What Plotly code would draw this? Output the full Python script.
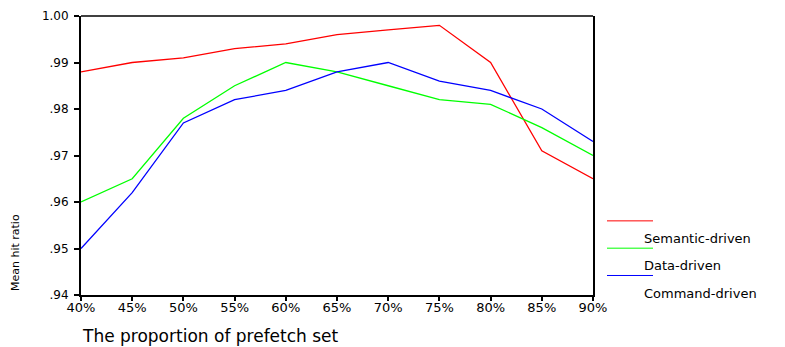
import plotly.graph_objects as go

proportions = [40, 45, 50, 55, 60, 65, 70, 75, 80, 85, 90]
x_tick_labels = ["40%", "45%", "50%", "55%", "60%", "65%", "70%", "75%", "80%", "85%", "90%"]
y_tick_vals = [0.94, 0.95, 0.96, 0.97, 0.98, 0.99, 1.00]
y_tick_labels = [".94", ".95", ".96", ".97", ".98", ".99", "1.00"]

series_names = ["Semantic-driven", "Data-driven", "Command-driven"]
series_colors = ["#ff0000", "#00ff00", "#0000ff"]
semantic_driven = [0.988, 0.990, 0.991, 0.993, 0.994, 0.996, 0.997, 0.998, 0.990, 0.971, 0.965]
data_driven = [0.960, 0.965, 0.978, 0.985, 0.990, 0.988, 0.985, 0.982, 0.981, 0.976, 0.970]
command_driven = [0.950, 0.962, 0.977, 0.982, 0.984, 0.988, 0.990, 0.986, 0.984, 0.980, 0.973]
series_values = [semantic_driven, data_driven, command_driven]

FONT = "DejaVu Sans"

fig = go.Figure()
for name, color, vals in zip(series_names, series_colors, series_values):
    fig.add_trace(go.Scatter(x=proportions, y=vals, mode="lines", name=name,
                             line=dict(color=color, width=1.3), showlegend=False))

# Plot area in pixels: x 81-593, y 9-295
W, H = 785, 347
L, R, T, B = 81, 593, 9, 295
def px(x):
    return (x - L) / (R - L)
def py(y):
    return (B - y) / (B - T)

shapes = [dict(type="line", xref="paper", yref="paper", x0=0, x1=1, y0=1, y1=1,
               line=dict(color="black", width=1.5))]
annotations = []
legend_line_y = [219, 247, 275]
legend_label_y = [237, 265, 293]
for i, (name, color) in enumerate(zip(series_names, series_colors)):
    shapes.append(dict(type="line", xref="paper", yref="paper",
                       x0=px(607), x1=px(653), y0=py(legend_line_y[i]), y1=py(legend_line_y[i]),
                       line=dict(color=color, width=1)))
    annotations.append(dict(xref="paper", yref="paper", x=px(642), y=py(legend_label_y[i]),
                            text=name, showarrow=False, xanchor="left", yanchor="middle",
                            font=dict(family=FONT, size=13, color="black")))

annotations.append(dict(xref="paper", yref="paper", x=px(15), y=py(252),
                        text="Mean hit ratio", textangle=-90, showarrow=False,
                        xanchor="center", yanchor="middle",
                        font=dict(family=FONT, size=11, color="black")))
annotations.append(dict(xref="paper", yref="paper", x=px(80), y=py(337),
                        text="The proportion of prefetch set", showarrow=False,
                        xanchor="left", yanchor="middle",
                        font=dict(family=FONT, size=17, color="black")))

fig.update_layout(
    width=W, height=H,
    margin=dict(l=L, r=W - R, t=T, b=H - B),
    paper_bgcolor="white", plot_bgcolor="white",
    font=dict(family=FONT, size=12, color="black"),
    shapes=shapes, annotations=annotations,
    xaxis=dict(range=[40, 90], tickvals=proportions, ticktext=x_tick_labels,
               showgrid=False, zeroline=False, showline=True, linecolor="black", linewidth=2,
               ticks="outside", ticklen=4, tickwidth=2, tickcolor="black",
               ticklabelstandoff=-5,
               tickfont=dict(family=FONT, size=13)),
    yaxis=dict(range=[0.94, 1.00], tickvals=y_tick_vals, ticktext=y_tick_labels,
               showgrid=False, zeroline=False, showline=True, linecolor="black", linewidth=2,
               mirror=True,
               ticks="outside", ticklen=5, tickwidth=2, tickcolor="black",
               ticklabelstandoff=3,
               tickfont=dict(family=FONT, size=12)),
)

fig.write_html("out.html", config={"displayModeBar": False},
               post_script="document.body.style.margin='0';document.body.style.overflow='hidden';")
